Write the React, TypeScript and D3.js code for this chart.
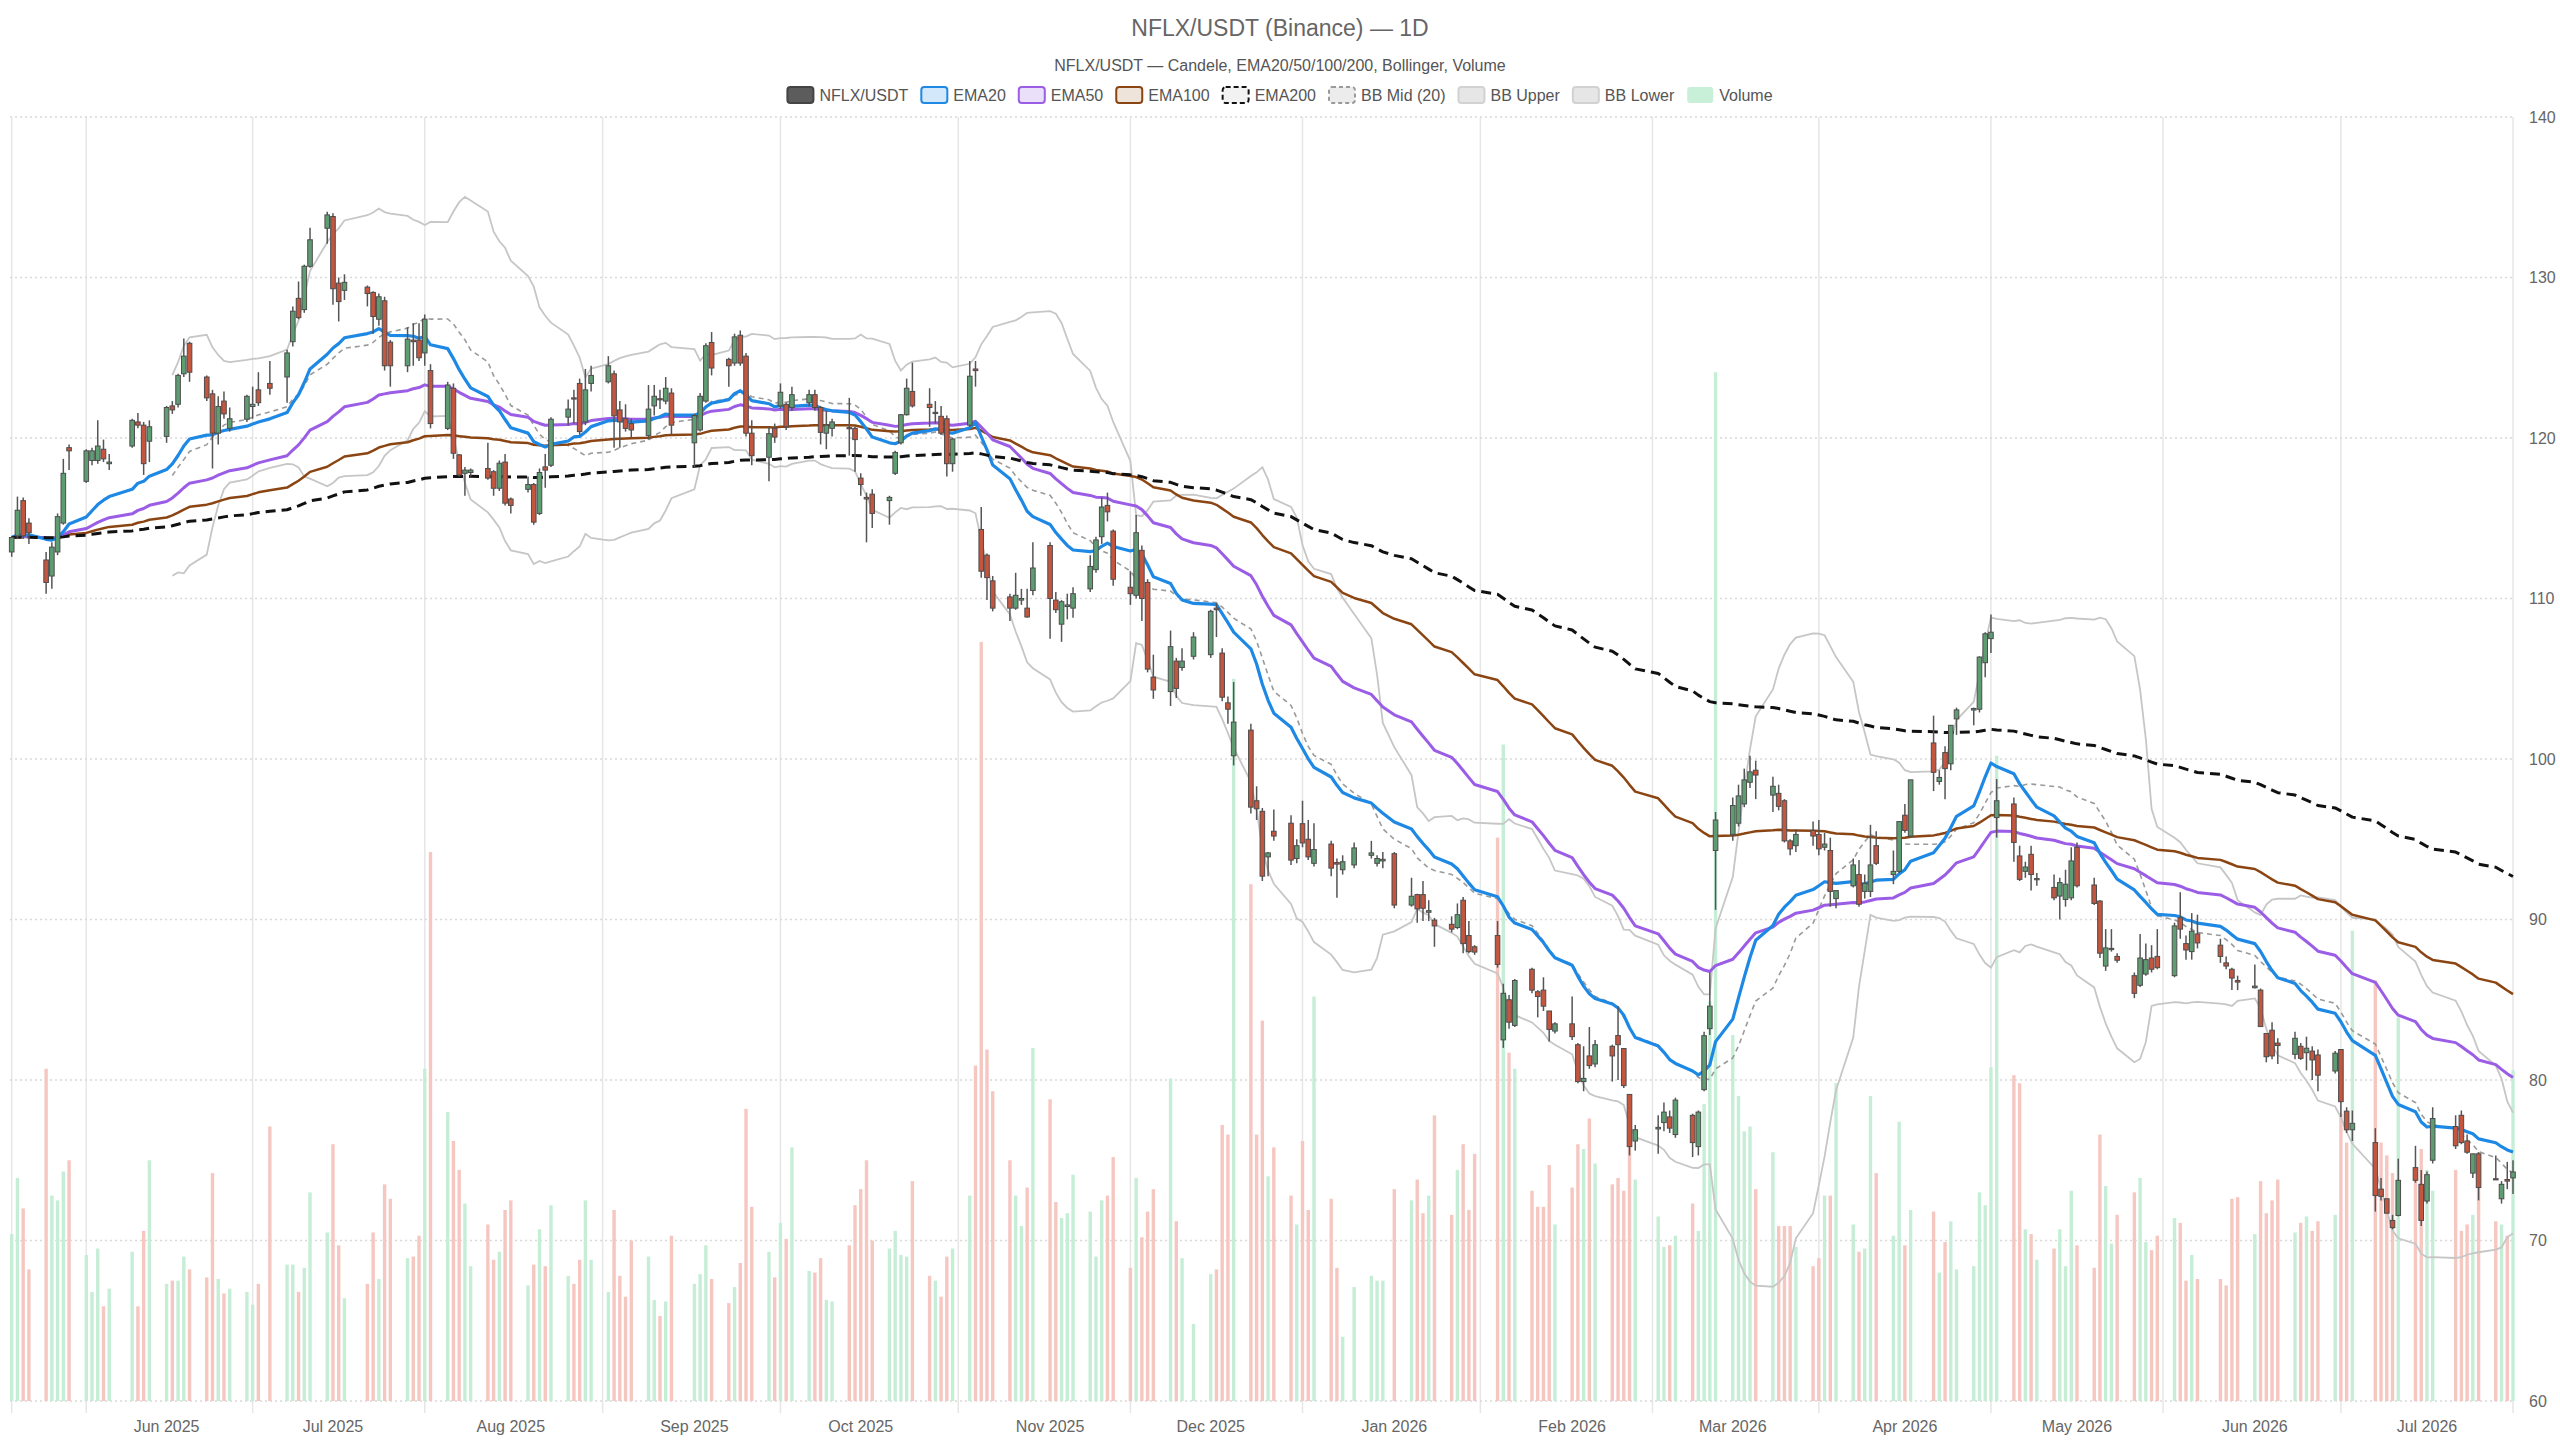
// @ts-nocheck
import React, { useRef, useEffect } from 'react';
import * as d3 from 'd3';

// trading calendar
const START_DATE = '2025-05-06';
const END_DATE = '2026-07-16';
const HOLIDAYS = [
    '2025-05-26', '2025-06-19', '2025-07-04', '2025-09-01', '2025-11-27', '2025-12-25',
    '2026-01-01', '2026-01-19', '2026-02-16', '2026-04-03', '2026-05-25', '2026-06-19', '2026-07-03'
];

// daily OHLC + volume, one value per trading day
const opens = [
    112.9, 113.9, 116.1, 114.7, 112.4, 111.4, 112.9, 114.7, 119.4, 117.3, 118.6, 118.6, 119.3, 118.4, 119.5, 121.0, 120.8, 119.8,
    120.1, 122.0, 122.1, 124.0, 125.9, 123.8, 122.75, 120.3, 122.3, 120.6, 121.17, 121.96, 123.0, 123.4, 123.8, 126.0, 128.7, 128.0, 130.7, 133.07,
    133.8, 129.65, 129.2, 129.4, 129.07, 127.4, 128.55, 125.97, 124.5, 126.1, 126.1, 125.3, 124.2, 120.6, 123.1, 118.95, 117.8, 117.85, 118.1, 117.9, 116.87, 118.5,
    116.2, 116.8, 117.1, 115.3, 118.2, 118.3, 121.3, 122.5, 123.4, 121.0, 123.4, 123.5, 124.0, 121.75, 121.2, 120.9, 120.15, 122.0, 122.45, 122.3, 122.8,
    119.7, 120.5, 122.3, 125.95, 124.9, 124.67, 126.4, 125.1, 120.3, 118.8, 120.6, 122.0, 122.1, 121.9, 122.2, 122.7, 121.9, 120.3, 120.6, 120.65, 120.6,
    117.5, 116.3, 116.5, 116.1, 117.8, 119.7, 121.45, 122.9, 122.1, 121.55, 121.35, 121.2, 118.4, 120.8, 124.3, 114.3, 112.7, 111.1, 110.1, 109.4, 109.9, 109.4, 110.5,
    113.3, 109.9, 108.4, 109.5, 109.4, 110.6, 111.8, 113.85, 115.8, 114.2, 110.7, 110.2, 113.0, 111.0, 105.1, 104.2, 106.1, 105.7, 106.4,
    106.5, 109.4, 106.6, 103.5, 100.2, 101.8, 97.4, 96.74, 93.9, 95.5, 96.0, 93.8, 95.97, 95.0, 93.5, 94.7, 93.55, 93.1, 93.4, 94.0, 93.5, 93.65,
    94.1, 90.9, 91.55, 91.55, 90.45, 89.96, 89.7, 89.5, 91.2, 89.0, 88.3, 89.0, 82.5, 85.0, 83.4, 86.9, 85.5, 85.6, 84.3, 83.05,
    83.5, 82.2, 79.9, 81.5, 81.0, 82.1, 82.77, 81.96, 79.1, 76.2, 76.95, 77.35, 77.7, 76.6, 77.8, 75.85, 79.4, 83.2, 94.3,
    95.3, 96.0, 97.2, 98.55, 99.3, 97.75, 97.86, 97.4, 94.9, 94.6, 95.55, 95.3, 94.5, 94.3, 91.3, 92.1, 92.8, 91.75, 91.75, 94.6, 92.8, 93.0,
    96.5, 95.2, 101.0, 98.6, 100.4, 99.7, 102.5, 103.05, 103.1, 106.0, 107.5, 96.35, 97.2, 93.96, 93.0, 94.06, 92.5, 92.0, 91.46, 91.25, 91.35,
    94.5, 92.15, 91.15, 87.1, 88.15, 87.7, 86.5, 85.9, 86.6, 87.6, 87.7, 86.5, 90.1, 88.5, 88.0, 89.1, 88.4, 87.3, 86.9, 86.2,
    85.75, 85.6, 82.9, 83.1, 82.3, 81.6, 82.1, 81.7, 81.8, 81.56, 80.56, 81.9, 78.06, 76.9, 76.1, 73.2, 72.6, 71.25, 71.56, 74.54, 73.5,
    72.46, 75.0, 77.1, 77.8, 76.2, 74.2, 75.4, 73.85, 72.6, 73.8, 73.9
];

const highs = [
    113.9, 116.35, 116.3, 115.0, 112.9, 113.5, 115.3, 118.7, 119.6, 119.3, 119.4, 121.1, 119.9, 119.0, 121.2, 121.55, 121.0, 121.1,
    122.0, 122.3, 124.0, 126.2, 126.0, 123.9, 123.0, 122.6, 122.9, 121.9, 122.7, 123.2, 124.1, 124.8, 125.5, 128.2, 129.75, 130.8, 133.1, 134.1,
    134.0, 130.0, 130.2, 129.5, 129.15, 129.0, 128.8, 126.1, 126.9, 127.15, 127.15, 127.7, 124.6, 123.5, 123.4, 119.0, 118.2, 118.1, 119.7, 118.0, 118.6, 119.0,
    116.3, 117.6, 117.2, 118.1, 119.0, 121.3, 122.4, 123.0, 123.7, 124.3, 124.5, 125.1, 124.2, 122.3, 122.1, 121.2, 123.3, 123.3, 123.0, 123.8, 123.1,
    121.5, 122.8, 125.9, 126.6, 125.0, 126.5, 126.7, 125.3, 121.1, 120.7, 120.9, 123.4, 122.2, 123.2, 123.0, 123.0, 122.0, 121.7, 121.2, 122.5, 120.7,
    117.8, 116.6, 116.8, 116.4, 119.2, 121.5, 123.7, 124.7, 123.1, 122.3, 122.0, 121.4, 120.0, 124.8, 124.8, 115.7, 112.8, 111.4, 110.3, 111.6, 110.6, 110.6, 113.5,
    113.5, 110.4, 109.9, 110.3, 110.7, 112.7, 113.85, 116.3, 116.6, 114.3, 111.7, 115.2, 113.3, 111.2, 106.5, 108.0, 106.3, 106.9, 107.9,
    109.3, 109.7, 106.9, 103.9, 104.8, 102.2, 98.3, 96.95, 94.2, 96.85, 96.5, 95.0, 97.4, 96.2, 96.0, 94.9, 93.8, 94.0, 94.8, 94.9, 94.0, 94.2,
    94.2, 92.6, 91.6, 92.4, 91.2, 90.1, 90.2, 91.0, 91.4, 89.9, 88.4, 89.9, 86.0, 85.3, 86.3, 87.0, 85.6, 86.4, 84.3, 83.6,
    85.2, 82.3, 82.1, 83.3, 82.5, 82.2, 84.6, 82.0, 79.1, 77.2, 77.8, 78.6, 78.1, 78.9, 77.9, 78.1, 83.0, 86.7, 96.7,
    97.6, 98.4, 99.4, 100.2, 99.9, 98.9, 98.4, 97.5, 95.0, 95.6, 96.1, 96.2, 95.4, 95.1, 91.8, 93.8, 93.7, 92.8, 95.9, 95.5, 94.3, 96.1,
    97.2, 98.7, 102.7, 99.3, 100.8, 102.1, 103.2, 103.2, 106.4, 107.9, 109.0, 98.75, 97.6, 94.6, 93.6, 94.6, 92.9, 92.8, 92.6, 93.1, 94.5,
    94.8, 92.6, 91.2, 89.4, 89.4, 87.9, 86.7, 89.1, 88.5, 88.4, 89.4, 89.8, 91.7, 89.0, 90.4, 90.3, 88.8, 87.7, 87.0, 86.5,
    87.2, 85.7, 82.9, 83.6, 82.6, 83.0, 82.3, 82.7, 82.1, 81.9, 81.8, 81.9, 78.3, 78.1, 77.0, 73.9, 72.6, 71.6, 75.1, 75.9, 74.4,
    74.3, 78.3, 77.8, 78.1, 76.6, 75.4, 75.5, 75.3, 73.7, 74.9, 75.0
];

const lows = [
    112.6, 113.7, 113.7, 113.4, 110.3, 110.6, 112.7, 114.6, 118.0, 117.2, 118.3, 118.4, 118.5, 118.0, 119.4, 120.6, 117.7, 118.5,
    119.7, 121.5, 121.9, 123.8, 123.5, 122.3, 118.1, 119.6, 121.2, 120.4, 121.0, 121.2, 122.0, 122.7, 122.2, 125.7, 127.4, 127.8, 130.6, 132.1,
    128.3, 127.26, 128.6, 128.2, 126.5, 127.0, 124.2, 123.2, 124.1, 124.5, 124.8, 124.5, 120.6, 120.5, 118.7, 117.6, 116.4, 117.6, 117.4, 116.4, 116.7, 115.8,
    115.3, 116.6, 114.6, 115.2, 116.9, 118.2, 120.8, 120.9, 120.2, 120.8, 122.9, 123.4, 119.4, 119.4, 120.4, 120.0, 119.9, 121.4, 121.8, 122.1, 120.2,
    118.2, 120.4, 122.2, 123.9, 123.2, 124.5, 124.5, 120.1, 118.3, 117.3, 119.7, 121.8, 120.5, 121.7, 122.0, 121.7, 119.6, 119.3, 120.1, 118.9, 117.9,
    116.4, 113.5, 114.4, 114.6, 117.7, 119.6, 121.4, 121.9, 120.7, 120.9, 120.2, 117.6, 117.9, 120.7, 123.2, 111.3, 109.9, 109.2, 108.6, 109.3, 109.6, 108.8, 110.2,
    107.5, 109.1, 107.3, 108.7, 108.8, 110.4, 111.6, 113.4, 114.8, 110.8, 109.6, 110.0, 108.6, 105.4, 103.75, 103.3, 103.8, 105.5, 106.2,
    106.3, 107.6, 103.6, 102.2, 99.6, 96.6, 96.2, 92.4, 92.7, 94.9, 93.4, 93.5, 94.5, 93.7, 93.3, 92.7, 91.35, 92.8, 93.2, 93.8, 93.3, 93.2,
    90.7, 90.8, 89.8, 89.9, 89.9, 88.3, 89.2, 89.4, 87.9, 87.9, 87.8, 87.0, 82.0, 83.2, 83.3, 85.4, 83.9, 84.3, 82.4, 82.9,
    82.5, 79.8, 79.3, 80.7, 80.8, 79.9, 80.0, 79.5, 75.3, 75.6, 75.4, 76.8, 76.7, 76.4, 75.2, 75.3, 79.3, 82.8, 90.6,
    94.9, 95.8, 97.0, 98.2, 97.5, 96.7, 96.8, 94.8, 94.0, 94.2, 94.6, 94.0, 94.3, 90.8, 90.7, 92.0, 90.8, 91.3, 91.4, 93.4, 92.2, 92.9,
    95.4, 95.1, 98.0, 98.4, 97.5, 99.3, 101.5, 102.1, 102.9, 105.1, 106.6, 95.1, 93.6, 92.4, 92.6, 91.8, 92.1, 91.2, 90.0, 90.8, 91.2,
    92.0, 90.9, 87.6, 86.8, 88.0, 87.3, 85.1, 85.8, 86.5, 86.7, 86.9, 86.4, 88.8, 87.5, 87.5, 88.2, 87.3, 86.9, 85.6, 85.6,
    85.7, 83.3, 81.1, 81.3, 81.0, 81.3, 81.25, 80.6, 80.0, 79.3, 80.4, 77.7, 76.7, 76.2, 71.8, 72.5, 71.7, 70.7, 71.5, 73.6, 70.9,
    72.3, 74.8, 75.7, 76.0, 75.4, 73.9, 72.5, 73.8, 72.3, 73.2, 72.9
];

const closes = [
    113.8, 115.5, 113.9, 114.1, 111.0, 113.2, 115.1, 117.8, 119.2, 119.2, 119.2, 119.5, 118.7, 118.5, 121.1, 120.8, 118.4, 120.7,
    121.9, 121.75, 123.9, 125.1, 124.1, 122.5, 120.3, 121.96, 121.5, 121.2, 122.6, 122.1, 122.2, 123.1, 125.3, 127.9, 127.5, 130.7, 132.35, 133.9,
    129.3, 128.5, 129.7, 129.0, 127.57, 128.8, 124.5, 124.5, 126.16, 126.0, 125.0, 127.4, 120.9, 123.3, 119.05, 117.7, 118.0, 118.0, 117.5, 116.87, 118.43, 115.94,
    115.8, 117.1, 114.76, 117.85, 118.0, 121.17, 121.8, 122.45, 120.4, 123.0, 123.9, 124.5, 121.38, 121.0, 120.6, 120.5, 121.8, 122.6, 122.4, 123.1, 120.8,
    121.4, 122.6, 125.75, 124.36, 124.5, 126.3, 124.67, 120.3, 118.9, 120.27, 120.06, 122.85, 120.7, 122.7, 122.7, 121.9, 120.35, 120.8, 121.0, 120.6, 119.9,
    117.1, 116.2, 115.3, 116.3, 119.1, 121.45, 123.1, 122.0, 121.9, 121.6, 120.3, 118.4, 119.94, 123.85, 124.2, 111.7, 111.3, 109.4, 109.4, 110.2, 110.0, 108.85, 111.9,
    110.0, 109.3, 109.8, 109.6, 110.3, 112.0, 113.65, 115.7, 115.4, 111.2, 110.3, 114.1, 110.0, 105.6, 104.3, 107.0, 104.4, 106.1, 107.6,
    109.2, 109.3, 103.85, 103.1, 102.3, 97.0, 96.9, 92.7, 94.15, 95.2, 93.7, 94.6, 94.77, 93.9, 94.36, 93.2, 93.45, 93.6, 94.46, 94.15, 93.8, 93.75,
    90.9, 91.45, 90.66, 90.7, 90.55, 89.6, 89.4, 90.3, 88.5, 88.0, 87.97, 87.2, 85.4, 83.6, 86.2, 85.6, 85.2, 84.6, 83.15, 83.5,
    82.7, 79.9, 80.1, 80.9, 82.2, 81.5, 82.2, 79.65, 75.85, 76.9, 77.05, 78.0, 77.0, 78.75, 76.1, 78.0, 82.76, 84.6, 96.2,
    97.1, 97.7, 98.7, 99.2, 99.0, 98.3, 97.05, 94.9, 94.4, 95.3, 95.2, 94.4, 94.7, 91.75, 91.8, 93.4, 90.95, 92.25, 93.4, 93.5, 93.0, 96.1,
    95.55, 98.7, 99.17, 98.85, 99.4, 102.1, 103.06, 103.15, 106.35, 107.8, 107.9, 97.4, 94.8, 92.5, 93.27, 92.8, 92.55, 91.35, 92.3, 92.2, 93.65,
    92.1, 91.0, 87.9, 88.23, 88.2, 87.46, 85.4, 87.6, 87.5, 86.9, 87.0, 89.6, 89.4, 88.1, 89.27, 88.54, 87.7, 87.1, 86.35, 86.1,
    85.85, 83.33, 81.45, 81.5, 82.15, 82.6, 81.35, 81.98, 81.25, 80.3, 81.67, 78.65, 76.9, 77.3, 72.8, 72.75, 71.7, 70.8, 73.75, 73.75, 71.25,
    74.1, 77.6, 75.9, 76.1, 75.5, 75.4, 73.3, 73.8, 73.5, 73.7, 74.27
];

const volumes = [
    10.4, 13.9, 12.0, 8.2, 20.7, 12.8, 12.5, 14.3, 15.0, 9.1, 6.8, 9.5, 5.9, 7.0, 9.3, 5.9, 10.6, 15.0,
    7.3, 7.5, 7.5, 9.0, 8.2, 7.7, 14.2, 7.6, 6.7, 7.0, 6.8, 6.0, 7.3, 17.1, 8.5, 8.5, 6.8, 8.3, 13.0, 10.5,
    16.0, 9.7, 6.4, 7.3, 10.5, 7.6, 13.5, 12.6, 8.9, 9.0, 10.3, 20.7, 34.2, 18.0, 16.2, 14.4, 12.3, 8.4, 11.0, 8.8, 9.3, 11.9,
    12.5, 7.2, 8.5, 10.7, 8.4, 12.2, 7.8, 7.3, 8.8, 12.5, 8.8, 6.8, 11.9, 7.8, 6.5, 10.0, 9.0, 6.3, 5.3, 6.2, 10.3,
    7.3, 7.9, 9.7, 7.6, 6.1, 7.1, 8.6, 18.2, 12.1, 9.3, 7.7, 11.1, 10.1, 15.8, 8.1, 8.0, 8.9, 6.3, 6.2, 9.7, 12.2,
    13.2, 15.0, 10.0, 9.5, 10.6, 9.1, 9.0, 13.7, 7.8, 7.5, 6.5, 9.0, 9.5, 12.8, 20.9, 47.3, 21.9, 19.3, 15.0, 12.8, 10.9, 13.3, 22.0,
    18.8, 12.4, 11.4, 11.7, 14.1, 11.8, 9.0, 12.5, 12.8, 15.2, 8.3, 13.9, 10.2, 11.8, 13.2, 20.1, 11.2, 8.9, 4.8,
    7.9, 8.2, 17.2, 16.6, 45.0, 32.2, 16.6, 23.7, 14.0, 15.8, 12.8, 11.0, 16.2, 11.9, 25.2, 12.6, 8.3, 4.0, 7.1, 7.8, 7.5, 7.5,
    13.2, 12.5, 13.8, 11.7, 12.8, 17.8, 11.6, 14.4, 16.0, 11.9, 15.4, 35.1, 40.9, 21.7, 20.7, 13.1, 12.1, 12.1, 14.7, 11.0,
    13.3, 16.0, 15.7, 17.6, 14.8, 13.5, 13.9, 13.1, 18.0, 13.8, 11.5, 9.6, 9.7, 10.3, 12.3, 10.6, 18.5, 24.9, 64.1,
    22.8, 19.0, 16.8, 17.1, 13.2, 15.5, 10.9, 10.9, 10.9, 9.6, 8.4, 8.9, 12.8, 12.8, 19.8, 11.0, 9.3, 9.5, 19.0, 14.2, 10.3, 17.4,
    9.7, 11.9, 11.8, 8.0, 9.9, 11.2, 8.2, 8.4, 13.0, 12.2, 20.8, 40.2, 20.3, 19.8, 10.7, 10.4, 8.8, 9.5, 10.7, 8.4, 13.1,
    9.7, 8.3, 16.6, 13.4, 9.8, 11.6, 13.0, 13.9, 9.9, 9.4, 10.3, 11.4, 11.1, 7.5, 9.1, 7.6, 7.6, 7.2, 12.6, 12.7,
    10.4, 13.7, 11.7, 12.5, 13.8, 10.5, 11.1, 11.5, 10.6, 11.2, 11.6, 17.9, 16.1, 29.3, 26.2, 16.1, 15.3, 14.2, 23.9, 13.7, 15.7,
    14.4, 13.1, 14.4, 10.6, 11.0, 11.6, 15.5, 11.2, 11.0, 10.3, 20.6
];

// vertical split lines (dates) and axis ticks
const GRID_DATES = [
    '2025-05-06', '2025-05-19', '2025-06-17', '2025-07-17', '2025-08-17', '2025-09-17', '2025-10-18', '2025-11-17',
    '2025-12-17', '2026-01-17', '2026-02-16', '2026-03-17', '2026-04-16', '2026-05-16', '2026-06-16', '2026-07-16'
];
const PRICE_TICKS = [60, 70, 80, 90, 100, 110, 120, 130, 140];
const EMA_SETTINGS = [
    { period: 100, color: '#8b4513', width: 2.5, dash: null },
    { period: 50, color: '#9b5de5', width: 3, dash: null },
    { period: 20, color: '#1e88e5', width: 3.2, dash: null },
    { period: 200, color: '#111111', width: 3, dash: '10,6' }
];
const BB_PERIOD = 20;
const BB_MULT = 2;

const LEGEND_ITEMS = [
    { text: 'NFLX/USDT', fill: '#5c5c5c', stroke: '#444444', dash: null },
    { text: 'EMA20', fill: '#d4e8fb', stroke: '#1e88e5', dash: null },
    { text: 'EMA50', fill: '#ebe0fa', stroke: '#9b5de5', dash: null },
    { text: 'EMA100', fill: '#efe4da', stroke: '#8b4513', dash: null },
    { text: 'EMA200', fill: '#f2f2f2', stroke: '#111111', dash: '5,3' },
    { text: 'BB Mid (20)', fill: '#ececec', stroke: '#9a9a9a', dash: '4,3' },
    { text: 'BB Upper', fill: '#e6e6e6', stroke: '#d2d2d2', dash: null },
    { text: 'BB Lower', fill: '#e6e6e6', stroke: '#d2d2d2', dash: null },
    { text: 'Volume', fill: '#c8efd8', stroke: 'none', dash: null }
];

const FONT = '"Liberation Sans", Arial, Helvetica, sans-serif';

const parseDay = (s: string) => new Date(s + 'T00:00:00Z');

const ema = (values: number[], period: number) => {
    const k = 2 / (period + 1);
    const out: number[] = [];
    values.forEach((v, i) => {
        out.push(i === 0 ? v : v * k + out[i - 1] * (1 - k));
    });
    return out;
};

export default function App() {
    const svgRef = useRef(null);

    useEffect(() => {
        document.body.style.margin = '0';
        const width = 2560;
        const height = 1440;
        const plot = { left: 11.7, right: 2513, top: 117, bottom: 1401 };

        const svg = d3.select(svgRef.current)
            .attr('width', width)
            .attr('height', height)
            .style('font-family', FONT);
        svg.selectAll('*').remove();

        // trading days
        const holidaySet = new Set(HOLIDAYS);
        const fmtDay = d3.utcFormat('%Y-%m-%d');
        const days = d3.utcDay
            .range(parseDay(START_DATE), d3.utcDay.offset(parseDay(END_DATE), 1))
            .filter(d => d.getUTCDay() !== 0 && d.getUTCDay() !== 6 && !holidaySet.has(fmtDay(d)));

        const data = closes.map((c, i) => ({
            date: days[i],
            open: opens[i],
            high: Math.max(highs[i], opens[i], c),
            low: Math.min(lows[i], opens[i], c),
            close: c,
            volume: volumes[i]
        }));

        const x = d3.scaleUtc()
            .domain([parseDay(START_DATE), parseDay(END_DATE)])
            .range([plot.left, plot.right]);
        const y = d3.scaleLinear().domain([60, 140]).range([plot.bottom, plot.top]);
        const yVol = d3.scaleLinear().domain([0, 80]).range([plot.bottom, plot.top]);

        // vertical split lines
        svg.append('g')
            .selectAll('line')
            .data(GRID_DATES.map(parseDay))
            .enter().append('line')
            .attr('x1', d => x(d)).attr('x2', d => x(d))
            .attr('y1', plot.top).attr('y2', plot.bottom + 12)
            .attr('stroke', '#e6e6e6')
            .attr('stroke-width', 1.5);

        // horizontal dotted grid
        svg.append('g')
            .selectAll('line')
            .data(PRICE_TICKS)
            .enter().append('line')
            .attr('x1', 10).attr('x2', plot.right)
            .attr('y1', d => y(d)).attr('y2', d => y(d))
            .attr('stroke', '#d9d9d9')
            .attr('stroke-width', 1.5)
            .attr('stroke-dasharray', '2,3');

        // volume bars
        svg.append('g')
            .selectAll('rect')
            .data(data)
            .enter().append('rect')
            .attr('x', d => x(d.date) - 1.7)
            .attr('width', 3.4)
            .attr('y', d => yVol(d.volume))
            .attr('height', d => plot.bottom - yVol(d.volume))
            .attr('fill', d => d.close >= d.open ? '#c6eed7' : '#f6c7c1');

        // bollinger bands
        const bb = data.map((d, i) => {
            if (i < BB_PERIOD - 1) return null;
            const win = closes.slice(i - BB_PERIOD + 1, i + 1);
            const m = d3.mean(win);
            const sd = Math.sqrt(d3.mean(win, v => (v - m) * (v - m)));
            return { date: d.date, mid: m, upper: m + BB_MULT * sd, lower: m - BB_MULT * sd };
        }).filter(Boolean);

        const bandLine = (key: string) => d3.line()
            .x((d: any) => x(d.date))
            .y((d: any) => y(d[key]));

        ['upper', 'lower'].forEach(key => {
            svg.append('path')
                .datum(bb)
                .attr('fill', 'none')
                .attr('stroke', '#c6c6c6')
                .attr('stroke-width', 1.8)
                .attr('d', bandLine(key));
        });
        svg.append('path')
            .datum(bb)
            .attr('fill', 'none')
            .attr('stroke', '#9a9a9a')
            .attr('stroke-width', 1.6)
            .attr('stroke-dasharray', '5,4')
            .attr('d', bandLine('mid'));

        // EMA lines
        EMA_SETTINGS.forEach(s => {
            const vals = ema(closes, s.period);
            const line = d3.line()
                .x((d: any, i) => x(data[i].date))
                .y((d: any) => y(d));
            const p = svg.append('path')
                .datum(vals)
                .attr('fill', 'none')
                .attr('stroke', s.color)
                .attr('stroke-width', s.width)
                .attr('stroke-linejoin', 'round')
                .attr('d', line);
            if (s.dash) p.attr('stroke-dasharray', s.dash);
        });

        // candles
        const candles = svg.append('g')
            .selectAll('g')
            .data(data)
            .enter().append('g');

        candles.append('line')
            .attr('x1', d => x(d.date)).attr('x2', d => x(d.date))
            .attr('y1', d => y(d.high)).attr('y2', d => y(d.low))
            .attr('stroke', '#555555')
            .attr('stroke-width', 1.5);

        candles.append('rect')
            .attr('x', d => x(d.date) - 2.3)
            .attr('width', 4.6)
            .attr('y', d => y(Math.max(d.open, d.close)))
            .attr('height', d => Math.max(1.2, Math.abs(y(d.open) - y(d.close))))
            .attr('fill', d => d.close >= d.open ? '#5e9c72' : '#c4553f')
            .attr('stroke', '#4d4d4d')
            .attr('stroke-width', 1);

        // right price axis labels
        svg.append('g')
            .selectAll('text')
            .data(PRICE_TICKS)
            .enter().append('text')
            .attr('x', 2529)
            .attr('y', d => y(d))
            .attr('dy', '0.35em')
            .attr('font-size', 16)
            .attr('fill', '#666666')
            .text(d => d);

        // month labels sit on the first trading day of each month (first partial month unlabeled)
        const firstDays = Array.from(d3.group(days, d => d3.utcFormat('%Y-%m')(d)).values())
            .map(arr => arr[0])
            .slice(1);
        svg.append('g')
            .selectAll('text')
            .data(firstDays)
            .enter().append('text')
            .attr('x', d => x(d))
            .attr('y', 1426)
            .attr('dy', '0.35em')
            .attr('text-anchor', 'middle')
            .attr('font-size', 16)
            .attr('fill', '#666666')
            .text(d => d3.utcFormat('%b %Y')(d));

        // title + subtitle
        svg.append('text')
            .attr('x', width / 2).attr('y', 28)
            .attr('dy', '0.35em')
            .attr('text-anchor', 'middle')
            .attr('font-size', 23)
            .attr('fill', '#666666')
            .text('NFLX/USDT (Binance) — 1D');

        svg.append('text')
            .attr('x', width / 2).attr('y', 65)
            .attr('dy', '0.35em')
            .attr('text-anchor', 'middle')
            .attr('font-size', 16)
            .attr('fill', '#555555')
            .text('NFLX/USDT — Candele, EMA20/50/100/200, Bollinger, Volume');

        // legend
        const legend = svg.append('g');
        const iconW = 26, iconH = 16, iconGap = 6, itemGap = 13;
        let cursor = 0;
        LEGEND_ITEMS.forEach(item => {
            const g = legend.append('g');
            const r = g.append('rect')
                .attr('x', 0).attr('y', -iconH / 2)
                .attr('width', iconW).attr('height', iconH)
                .attr('rx', 3)
                .attr('fill', item.fill)
                .attr('stroke', item.stroke)
                .attr('stroke-width', 2);
            if (item.dash) r.attr('stroke-dasharray', item.dash);
            const t = g.append('text')
                .attr('x', iconW + iconGap)
                .attr('dy', '0.35em')
                .attr('font-size', 16)
                .attr('fill', '#555555')
                .text(item.text);
            const w = iconW + iconGap + t.node().getComputedTextLength();
            g.attr('transform', `translate(${cursor},0)`);
            cursor += w + itemGap;
        });
        const total = cursor - itemGap;
        legend.attr('transform', `translate(${width / 2 - total / 2},95)`);

        return () => {
            d3.select(svgRef.current).selectAll('*').remove();
        };
    }, []);

    return (
        <svg ref={svgRef} style={{ display: 'block' }}></svg>
    );
}
